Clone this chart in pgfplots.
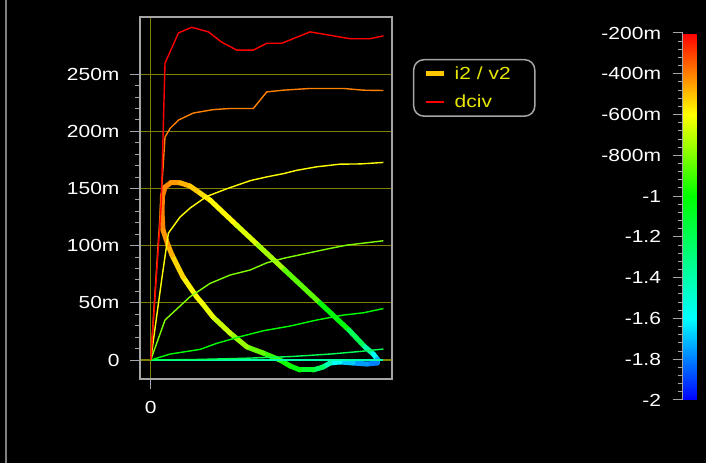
\documentclass[border=0pt]{standalone}
\usepackage{fontspec}
\setmainfont{Liberation Sans}[FakeStretch=1.2]
\usepackage{pgfplots}
\pgfplotsset{compat=1.18}
\definecolor{olivegrid}{RGB}{128,128,0}
\definecolor{framegray}{RGB}{165,165,165}
\definecolor{legtext}{RGB}{230,230,0}
\definecolor{gold}{RGB}{255,200,0}
\definecolor{c02}{RGB}{255,0,0}
\definecolor{c04}{RGB}{255,128,0}
\definecolor{c06}{RGB}{255,255,0}
\definecolor{c08}{RGB}{128,255,0}
\definecolor{c10}{RGB}{0,255,0}
\definecolor{c12}{RGB}{0,255,85}
\definecolor{c14}{RGB}{0,255,170}
\definecolor{c16}{RGB}{0,255,255}
\definecolor{c18}{RGB}{0,128,255}
\definecolor{c20}{RGB}{0,0,255}
\begin{document}
\begin{tikzpicture}[x=1pt,y=1pt]
\fill[black] (0,0) rectangle (706,463);
\useasboundingbox (0,0) rectangle (706,463);
\draw[gray, line width=2pt] (5.5,0) -- (5.5,463);
\begin{axis}[
 at={(140pt,84pt)}, anchor=south west, scale only axis, width=252pt, height=362pt,
 xmin=-0.046, xmax=1.037, ymin=-0.0166, ymax=0.3,
 axis background/.style={fill=black},
 axis line style={framegray, line width=2pt},
 xtick={0}, xticklabels={0},
 ytick={0,0.05,0.1,0.15,0.2,0.25}, yticklabels={0,50m,100m,150m,200m,250m},
 minor y tick num=4,
 xtick pos=bottom, ytick pos=left, tick align=outside,
 major tick length=10pt, minor tick length=5pt,
 tick style={framegray, line width=1pt},
 xmajorgrids, ymajorgrids,
 grid style={olivegrid, line width=1.2pt},
 ticklabel style={font=\fontsize{17.5}{20}\selectfont, text=white},
 yticklabel style={xshift=-7pt},
 xticklabel style={yshift=-9pt},
 colormap={vj}{rgb255(0)=(0,0,255) rgb255(2)=(0,255,255) rgb255(5)=(0,255,0) rgb255(7)=(255,255,0) rgb255(8)=(255,128,0) rgb255(9)=(255,0,0)},
 point meta min=-2, point meta max=-0.2,
 colorbar,
 colorbar style={
   at={(parent axis.north east)}, anchor=north west, xshift=282pt, yshift=-16pt,
   scale only axis, width=17pt, height=367pt,
   ytick={-2,-1.8,-1.6,-1.4,-1.2,-1,-0.8,-0.6,-0.4,-0.2},
   yticklabels={-2,-1.8,-1.6,-1.4,-1.2,-1,-800m,-600m,-400m,-200m},
   minor y tick num=4,
   yticklabel pos=left, ytick pos=left, tick align=outside,
   major tick length=10pt, minor tick length=5pt,
   tick style={framegray, line width=1pt},
   axis line style={draw=none},
   ticklabel style={font=\fontsize{17.5}{20}\selectfont, text=white},
   yticklabel style={xshift=-8pt},
   after end axis/.code={\draw[framegray, line width=1.5pt] (rel axis cs:0,0) -- (rel axis cs:0,1);},
 },
 legend style={at={(1.0833,0.884)}, anchor=north west, fill=black, draw=framegray, line width=1.5pt,
   rounded corners=10pt, text=legtext, font=\fontsize{17.5}{20}\selectfont,
   inner xsep=10pt, inner ysep=5pt, row sep=10pt, column sep=6pt},
 legend cell align=left,
 legend image code/.code={\draw[#1] (0pt,0pt) -- (18pt,0pt);},
]
% i2 / v2 loop
\addplot[mesh, point meta=explicit, line width=5pt, line cap=round, line join=round, forget plot] table[meta=m] {
x y m
0.0529 0.1136 -0.42
0.0486 0.1294 -0.40
0.0507 0.1434 -0.40
0.0615 0.1512 -0.40
0.0873 0.1552 -0.42
0.126 0.1550 -0.46
0.169 0.1521 -0.50
0.212 0.1460 -0.53
0.255 0.1399 -0.56
0.369 0.1180 -0.62
0.461 0.1005 -0.70
0.576 0.0787 -0.78
0.728 0.0498 -0.93
0.852 0.0262 -1.10
0.921 0.0114 -1.30
0.957 0.0052 -1.50
0.973 0.0009 -1.65
0.973 -0.0026 -1.80
0.930 -0.0035 -1.80
0.870 -0.0026 -1.72
0.814 -0.0017 -1.65
0.771 -0.0026 -1.55
0.741 -0.0061 -1.30
0.698 -0.0087 -1.15
0.642 -0.0087 -1.05
0.599 -0.0052 -1.00
0.556 0.0000 -0.95
0.483 0.0061 -0.88
0.414 0.0114 -0.80
0.341 0.0236 -0.72
0.268 0.0376 -0.65
0.2205 0.0498 -0.62
0.198 0.0551 -0.60
0.139 0.0726 -0.57
0.0916 0.0918 -0.50
0.0744 0.1005 -0.45
0.0529 0.1136 -0.42
};
% dciv family
\addplot[c20, line width=1.4pt, forget plot] coordinates {(0,0) (1,0)};
\addplot[c18, line width=1.4pt, forget plot] coordinates {(0,0) (1,0)};
\addplot[c16, line width=1.4pt, forget plot] coordinates {(0,0) (1,0)};
\addplot[c14, line width=1.4pt, forget plot] coordinates {(0,0) (1,0)};
\addplot[c12, line width=1.4pt, forget plot] coordinates {(0,0) (0.2,0.0005) (0.4,0.0015) (0.6,0.003) (0.771,0.0052) (0.9,0.0075) (1.0,0.0096)};
\addplot[c10, line width=1.4pt, forget plot] coordinates {(0,0) (0.083,0.0052) (0.212,0.0093) (0.284,0.0146) (0.384,0.0204) (0.484,0.0256) (0.599,0.0297) (0.714,0.035) (0.828,0.0393) (0.914,0.0413) (1.0,0.045)};
\addplot[c08, line width=1.4pt, forget plot] coordinates {(0,0) (0.0615,0.035) (0.169,0.0553) (0.255,0.067) (0.341,0.0743) (0.427,0.0787) (0.499,0.085) (0.57,0.0889) (0.671,0.0933) (0.771,0.0976) (0.843,0.1005) (1.0,0.1043)};
\addplot[c06, line width=1.4pt, forget plot] coordinates {(0,0) (0.047,0.07) (0.076,0.111) (0.126,0.125) (0.17,0.133) (0.24,0.143) (0.33,0.15) (0.43,0.157) (0.5,0.1602) (0.57,0.163) (0.63,0.166) (0.714,0.169) (0.814,0.1713) (0.9,0.1715) (1.0,0.1728)};
\addplot[c04, line width=1.4pt, forget plot] coordinates {(0,0) (0.0615,0.195) (0.083,0.2025) (0.119,0.2098) (0.183,0.216) (0.269,0.219) (0.341,0.22) (0.441,0.22) (0.499,0.2345) (0.57,0.236) (0.685,0.2375) (0.828,0.2375) (0.914,0.236) (1.0,0.2357)};
\addplot[c02, line width=1.4pt, forget plot] coordinates {(0,0) (0.045,0.135) (0.0615,0.2596) (0.119,0.286) (0.176,0.291) (0.248,0.287) (0.305,0.278) (0.37,0.271) (0.441,0.271) (0.499,0.277) (0.563,0.277) (0.685,0.287) (0.771,0.284) (0.857,0.281) (0.943,0.281) (1.0,0.2835)};
\addlegendimage{gold, line width=5pt}
\addlegendentry{i2 / v2\rule{12pt}{0pt}}
\addlegendimage{c02, line width=1.5pt}
\addlegendentry{dciv}
\end{axis}
\end{tikzpicture}
\end{document}
